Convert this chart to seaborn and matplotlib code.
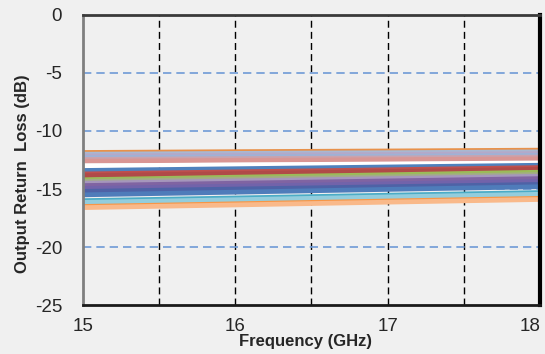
import matplotlib
matplotlib.use("Agg")
import matplotlib.pyplot as plt
import pandas as pd
import seaborn as sns

# frequency points (GHz)
freq = [15, 16, 17, 18]

# output return loss traces (dB), top band first
trace_names = [f"T{i:02d}" for i in range(1, 22)]
trace_values = [
    [-11.85, -11.78, -11.72, -11.65],
    [-12.00, -11.93, -11.87, -11.80],
    [-12.15, -12.08, -12.02, -11.95],
    [-12.30, -12.23, -12.17, -12.10],
    [-12.45, -12.38, -12.32, -12.25],
    [-12.60, -12.53, -12.47, -12.40],
    [-13.00, -12.92, -12.84, -12.75],
    [-13.40, -13.25, -13.10, -12.95],
    [-13.70, -13.52, -13.34, -13.15],
    [-13.85, -13.67, -13.49, -13.30],
    [-14.20, -13.98, -13.77, -13.55],
    [-14.35, -14.15, -13.95, -13.75],
    [-14.50, -14.30, -14.10, -13.90],
    [-14.70, -14.50, -14.30, -14.10],
    [-14.95, -14.75, -14.55, -14.35],
    [-15.20, -15.00, -14.80, -14.60],
    [-15.50, -15.27, -15.03, -14.80],
    [-16.00, -15.77, -15.53, -15.30],
    [-16.15, -15.92, -15.68, -15.45],
    [-16.50, -16.27, -16.03, -15.80],
    [-16.60, -16.37, -16.13, -15.90],
]
trace_colors = [
    "#E8914A", "#A8B8D2", "#B4A9C9", "#9FB2D6", "#C9A3AE", "#D99694",
    "#FFFFFF",
    "#4F81BD", "#C0504D", "#B04A48", "#9BBB59", "#A3AC86", "#A596BC",
    "#8064A2", "#7263AA", "#4E62A6", "#4F7CBA", "#4BACC6", "#93CDDD",
    "#F79646", "#F9B98A",
]

rows = []
for name, vals in zip(trace_names, trace_values):
    for f, v in zip(freq, vals):
        rows.append({"freq": f, "loss": v, "trace": name})
df = pd.DataFrame(rows)

sns.set_style("white")
plt.rcParams["font.family"] = ["Liberation Sans", "DejaVu Sans"]
plt.rcParams["axes.unicode_minus"] = False

bg = "#F0F0F0"
fig = plt.figure(figsize=(5.45, 3.54), dpi=100, facecolor=bg)
ax = fig.add_axes([0.152, 0.138, 0.839, 0.82])
ax.set_facecolor(bg)

# gridlines
for x in [15.5, 16, 16.5, 17, 17.5]:
    ax.axvline(x, color="black", lw=1.0, ls=(0, (5, 3)), zorder=1)
for y in [-5, -10, -15, -20]:
    ax.axhline(y, color="#6F9AD6", lw=1.2, ls=(0, (5, 3)), zorder=1)

sns.lineplot(data=df, x="freq", y="loss", hue="trace", palette=trace_colors,
             legend=False, linewidth=3.4, ax=ax, zorder=3)

ax.set_xlim(15, 18)
ax.set_ylim(-25, 0)
ax.set_xticks([15, 16, 17, 18])
ax.set_yticks([0, -5, -10, -15, -20, -25])
ax.tick_params(axis="y", length=5, width=1, color="#808080", labelsize=13.5, pad=10)
ax.tick_params(axis="x", length=0, labelsize=13.5, pad=9)
# keep the last x label inside the figure
ax.get_xticklabels()[-1].set_horizontalalignment("right")

for side, col, w in [("left", "#7F7F7F", 2.0), ("bottom", "#1A1A1A", 2.0),
                     ("top", "#3A3A3A", 2.0), ("right", "#000000", 3.0)]:
    ax.spines[side].set_color(col)
    ax.spines[side].set_linewidth(w)
    ax.spines[side].set_zorder(5)

ax.set_xlabel("Frequency (GHz)", fontsize=12, fontweight="bold")
ax.set_ylabel("Output Return  Loss (dB)", fontsize=12, fontweight="bold")
ax.xaxis.set_label_coords(0.486, -0.10)
ax.yaxis.set_label_coords(-0.115, 0.452)

fig.savefig("out.png", dpi=100, facecolor=bg)
